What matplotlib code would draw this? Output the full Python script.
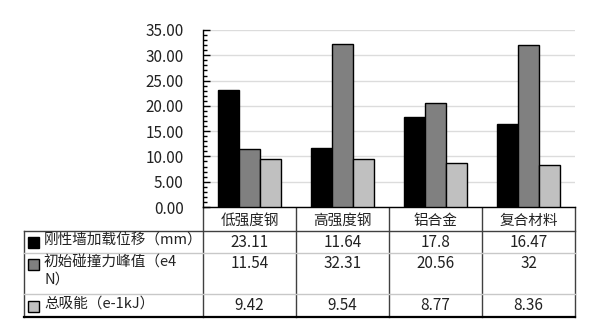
import matplotlib.pyplot as plt
from matplotlib.patches import Rectangle
from matplotlib.ticker import MultipleLocator, FormatStrFormatter

plt.rcParams['font.family'] = ['Noto Sans CJK SC', 'DejaVu Sans']

# --- data ---
categories = ["低强度钢", "高强度钢", "铝合金", "复合材料"]
series_names = ["刚性墙加载位移（mm）", "初始碰撞力峰值（e4\nN）", "总吸能（e-1kJ）"]
displacement = [23.11, 11.64, 17.8, 16.47]
peak_force = [11.54, 32.31, 20.56, 32]
energy = [9.42, 9.54, 8.77, 8.36]
series = [displacement, peak_force, energy]
colors = ["#000000", "#808080", "#c0c0c0"]

W, H = 600, 325
fig = plt.figure(figsize=(6, 3.25), dpi=100)

# plot area in pixel units
left, right, top, bottom = 203, 575, 30, 207
ax = fig.add_axes([left / W, 1 - bottom / H, (right - left) / W, (bottom - top) / H])

bar_w = 0.225
for i, (vals, c) in enumerate(zip(series, colors)):
    xs = [k + (i - 1) * bar_w for k in range(len(categories))]
    ax.bar(xs, vals, width=bar_w, color=c, edgecolor="black", linewidth=1, zorder=3)

ax.set_xlim(-0.5, len(categories) - 0.5)
ax.set_ylim(0, 35)
ax.yaxis.set_major_locator(MultipleLocator(5))
ax.yaxis.set_minor_locator(MultipleLocator(1))
ax.yaxis.set_major_formatter(FormatStrFormatter("%.2f"))
ax.tick_params(axis="y", which="major", direction="in", length=5, width=1,
               labelsize=11, pad=14, labelcolor="#222222")
ax.tick_params(axis="y", which="minor", direction="in", length=3, width=1)
ax.set_xticks([])
ax.grid(axis="y", color="#dcdcdc", linewidth=1)
ax.set_axisbelow(True)
ax.yaxis.get_major_ticks()[-1].gridline.set_visible(False)
for s in ["top", "right"]:
    ax.spines[s].set_visible(False)
for s in ["left", "bottom"]:
    ax.spines[s].set_linewidth(1)

# --- data table below the plot, drawn in pixel coordinates ---
tab = fig.add_axes([0, 0, 1, 1], zorder=-1)
tab.set_xlim(0, W)
tab.set_ylim(H, 0)
tab.axis("off")

col_w = (right - left) / len(categories)
col_x = [left + k * col_w for k in range(len(categories) + 1)]
tab_left = 24
header_bot = 231
row_bounds = [header_bot, 253, 294, 317]
dark = "#404040"

for x in col_x:
    tab.plot([x, x], [bottom, row_bounds[-1]], color=dark, lw=1)
tab.plot([tab_left, tab_left], [header_bot, row_bounds[-1]], color=dark, lw=1)
tab.plot([tab_left, right], [header_bot, header_bot], color=dark, lw=1)
for y in row_bounds[1:-1]:
    tab.plot([tab_left, right], [y, y], color="#c8c8c8", lw=1)
tab.plot([tab_left, right], [row_bounds[-1], row_bounds[-1]], color="black", lw=1.6)

for k, name in enumerate(categories):
    tab.text(col_x[k] + col_w / 2, 220.5, name, ha="center", va="center",
             fontsize=10.5, color="#222222")

text_y = [242.5, 264, 306]
for i, (name, vals, c) in enumerate(zip(series_names, series, colors)):
    y = text_y[i]
    tab.add_patch(Rectangle((28, y - 5.5), 11, 11, facecolor=c,
                            edgecolor="black", linewidth=1))
    tab.text(44, y - 9, name, ha="left", va="top", fontsize=10.5,
             color="#222222", linespacing=1.3)
    for k, v in enumerate(vals):
        tab.text(col_x[k] + col_w / 2, y, f"{v:g}", ha="center", va="center",
                 fontsize=11, color="#222222")

fig.savefig("out.png", dpi=100)
